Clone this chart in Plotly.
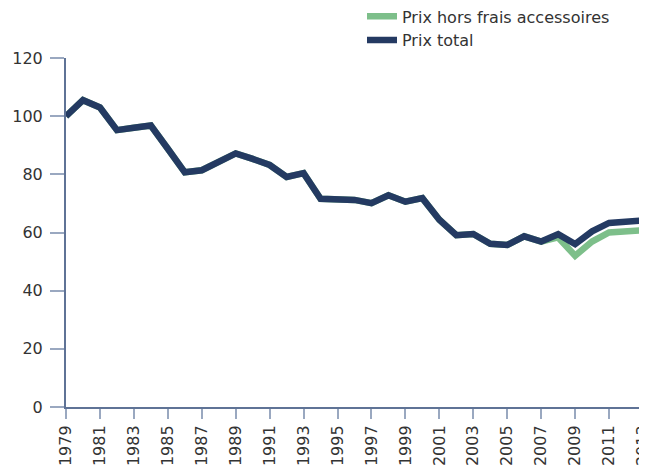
import plotly.graph_objects as go

years = list(range(1979, 2014))
prix_total = [100, 105.5, 103, 95.2, 96, 96.8, 88.8, 80.7, 81.4, 84.3, 87.2, 85.3, 83.2,
              79.1, 80.4, 71.6, 71.4, 71.2, 70.1, 72.8, 70.6, 71.8, 64.4, 59.1, 59.5,
              56.1, 55.7, 58.7, 56.9, 59.4, 56.0, 60.4, 63.3, 63.7, 64.1]
prix_hors_frais = [100, 105.5, 103, 95.2, 96, 96.8, 88.8, 80.7, 81.4, 84.3, 87.2, 85.3, 83.2,
                   79.1, 80.4, 71.6, 71.4, 71.2, 70.1, 72.8, 70.6, 71.8, 64.4, 59.1, 59.5,
                   56.1, 55.7, 58.7, 56.9, 58.3, 52.0, 56.9, 60.0, 60.5, 60.8]

green = "#7dbf8a"
navy = "#243a62"
axis_col = "#5f7396"
text_col = "#333333"
font_family = "DejaVu Sans, sans-serif"

fig = go.Figure()
fig.add_trace(go.Scatter(x=years, y=prix_hors_frais, mode="lines",
                         name="Prix hors frais accessoires",
                         line=dict(color=green, width=6.5)))
fig.add_trace(go.Scatter(x=years, y=prix_total, mode="lines",
                         name="Prix total",
                         line=dict(color=navy, width=6.5)))

# the page body adds an 8px offset, so the figure is sized to fill the rest of the window
fig.update_layout(
    width=639, height=462,
    margin=dict(l=58, r=4, t=50, b=63, autoexpand=False),
    paper_bgcolor="white", plot_bgcolor="white",
    font=dict(family=font_family, size=16, color=text_col),
    showlegend=True,
    legend=dict(x=0.513, y=1.168, xanchor="left", yanchor="top",
                font=dict(size=16, color=text_col),
                bgcolor="rgba(0,0,0,0)", tracegroupgap=0,
                itemwidth=30),
    xaxis=dict(range=[1979, 2013], dtick=2, tick0=1979, tickangle=-90,
               showgrid=False, zeroline=False, showline=True, automargin=False,
               ticklabeloverflow="allow",
               linecolor=axis_col, linewidth=2,
               ticks="outside", ticklen=10, tickcolor="#9aa8c0", tickwidth=1.5,
               tickfont=dict(size=16, color=text_col)),
    yaxis=dict(range=[0, 120], dtick=20, tick0=0,
               showgrid=False, zeroline=False, showline=True, automargin=False,
               linecolor=axis_col, linewidth=2, ticklabelstandoff=4,
               ticks="outside", ticklen=14, tickcolor="#9aa8c0", tickwidth=1.5,
               tickfont=dict(size=16, color=text_col)),
)

fig.write_html("out.html")
